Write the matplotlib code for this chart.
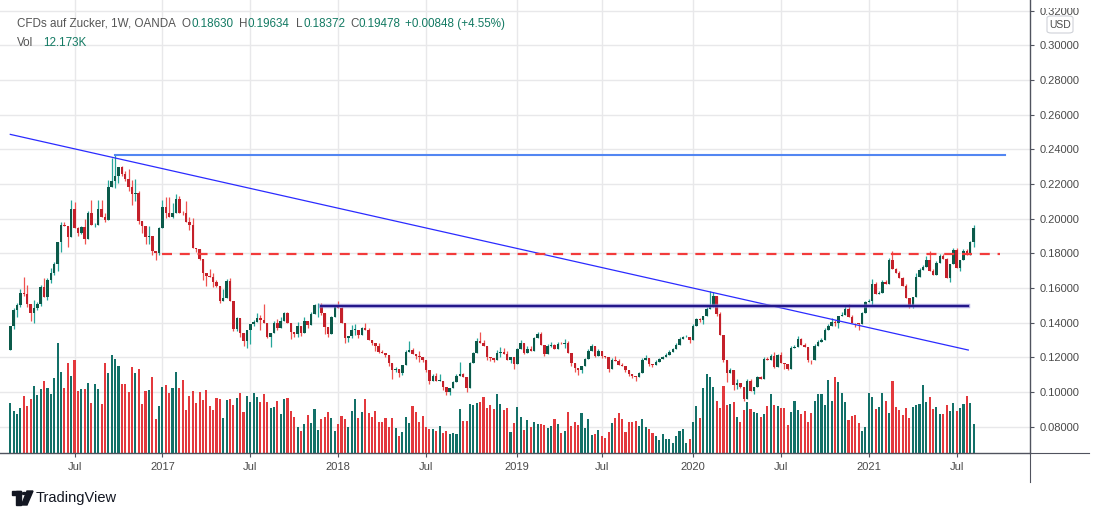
import matplotlib
matplotlib.use('Agg')
import matplotlib.pyplot as plt
from matplotlib.lines import Line2D
from matplotlib.patches import Rectangle, FancyBboxPatch, Polygon, Circle
import numpy as np
import pandas as pd

# ---- data (weekly candles, CFDs auf Zucker) ----
start_week = '2016-02-22'
first_open = 0.1242

closes = [
    0.1381, 0.1473, 0.1502, 0.1573, 0.1565, 0.1510, 0.1458, 0.1483, 0.1508, 0.1608,
    0.1550, 0.1646, 0.1685, 0.1738, 0.1865, 0.1963, 0.1958, 0.1896, 0.2056, 0.1944,
    0.1919, 0.1950, 0.1885, 0.2035, 0.1962, 0.1965, 0.2056, 0.2012, 0.1992, 0.2181,
    0.2217, 0.2246, 0.2296, 0.2256, 0.2229, 0.2181, 0.2140, 0.2150, 0.1987, 0.1958,
    0.1896, 0.1900, 0.1813, 0.1800, 0.1944, 0.2065, 0.2035, 0.2012, 0.2031, 0.2112,
    0.2035, 0.2031, 0.1981, 0.1962, 0.1829, 0.1827, 0.1769, 0.1685, 0.1671, 0.1665,
    0.1637, 0.1613, 0.1525, 0.1542, 0.1640, 0.1525, 0.1363, 0.1425, 0.1338, 0.1296,
    0.1358, 0.1390, 0.1406, 0.1425, 0.1415, 0.1400, 0.1319, 0.1342, 0.1400, 0.1367,
    0.1410, 0.1454, 0.1396, 0.1348, 0.1335, 0.1381, 0.1342, 0.1410, 0.1387, 0.1450,
    0.1500, 0.1504, 0.1454, 0.1373, 0.1335, 0.1431, 0.1492, 0.1483, 0.1396, 0.1310,
    0.1323, 0.1358, 0.1360, 0.1329, 0.1367, 0.1358, 0.1300, 0.1281, 0.1265, 0.1233,
    0.1227, 0.1213, 0.1169, 0.1127, 0.1135, 0.1108, 0.1154, 0.1231, 0.1242, 0.1219,
    0.1208, 0.1204, 0.1185, 0.1127, 0.1065, 0.1092, 0.1065, 0.1065, 0.1031, 0.1002,
    0.1021, 0.1056, 0.1092, 0.1102, 0.1085, 0.1021, 0.1165, 0.1223, 0.1294, 0.1281,
    0.1265, 0.1204, 0.1196, 0.1185, 0.1223, 0.1231, 0.1219, 0.1185, 0.1204, 0.1160,
    0.1246, 0.1281, 0.1227, 0.1246, 0.1238, 0.1310, 0.1335, 0.1271, 0.1219, 0.1267,
    0.1269, 0.1248, 0.1277, 0.1275, 0.1283, 0.1223, 0.1169, 0.1137, 0.1127, 0.1150,
    0.1188, 0.1236, 0.1265, 0.1210, 0.1238, 0.1208, 0.1204, 0.1135, 0.1185, 0.1181,
    0.1156, 0.1150, 0.1127, 0.1104, 0.1092, 0.1085, 0.1108, 0.1185, 0.1194, 0.1162,
    0.1156, 0.1173, 0.1188, 0.1200, 0.1213, 0.1231, 0.1246, 0.1271, 0.1306, 0.1315,
    0.1319, 0.1300, 0.1381, 0.1419, 0.1415, 0.1438, 0.1479, 0.1492, 0.1554, 0.1450,
    0.1329, 0.1185, 0.1108, 0.1127, 0.1040, 0.1054, 0.1031, 0.0958, 0.1065, 0.1008,
    0.1027, 0.1085, 0.1075, 0.1190, 0.1185, 0.1208, 0.1146, 0.1212, 0.1169, 0.1162,
    0.1135, 0.1254, 0.1262, 0.1304, 0.1273, 0.1258, 0.1185, 0.1183, 0.1265, 0.1287,
    0.1300, 0.1358, 0.1381, 0.1406, 0.1400, 0.1440, 0.1444, 0.1479, 0.1435, 0.1400,
    0.1396, 0.1390, 0.1454, 0.1517, 0.1527, 0.1623, 0.1565, 0.1573, 0.1637, 0.1623,
    0.1762, 0.1708, 0.1688, 0.1656, 0.1612, 0.1544, 0.1492, 0.1550, 0.1665, 0.1704,
    0.1723, 0.1762, 0.1700, 0.1675, 0.1746, 0.1785, 0.1765, 0.1656, 0.1738, 0.1819,
    0.1717, 0.1762, 0.1813, 0.1788, 0.1863, 0.19478,
]

# wick lengths above / below the body, in 0.001 price units
wick_up = [
    0, 1, 1, 2, 9, 5, 0, 5, 1, 1,   5, 1, 3, 1, 0, 2, 2, 0, 5, 4,
    1, 1, 5, 1, 7, 1, 5, 5, 2, 4,   13, 12, 0, 1, 2, 6, 4, 8, 1, 0,
    0, 6, 0, 0, 1, 4, 6, 9, 6, 3,   2, 1, 7, 3, 4, 0, 0, 0, 0, 4,
    2, 1, 0, 5, 1, 2, 0, 1, 0, 0,   0, 0, 1, 3, 2, 9, 0, 0, 1, 2,
    2, 1, 1, 0, 0, 2, 0, 2, 0, 1,   1, 1, 1, 0, 0, 1, 1, 3, 1, 0,
    0, 3, 3, 0, 1, 3, 1, 0, 0, 2,   1, 0, 0, 0, 1, 0, 0, 1, 5, 1,
    0, 3, 0, 0, 0, 1, 2, 4, 0, 0,   0, 1, 1, 7, 1, 0, 1, 1, 2, 5,
    2, 0, 0, 0, 2, 3, 2, 2, 0, 0,   1, 2, 0, 2, 2, 1, 1, 1, 0, 1,
    2, 1, 1, 1, 2, 1, 0, 0, 0, 0,   1, 1, 1, 0, 1, 0, 0, 0, 1, 2,
    1, 1, 0, 0, 0, 0, 1, 1, 2, 0,   0, 1, 1, 1, 1, 1, 1, 1, 1, 1,
    1, 0, 1, 1, 1, 0, 1, 9, 2, 0,   1, 0, 0, 1, 0, 2, 0, 0, 1, 1,
    0, 1, 1, 1, 1, 1, 2, 1, 2, 0,   0, 1, 1, 2, 1, 1, 0, 0, 1, 1,
    1, 1, 1, 2, 1, 0, 2, 2, 3, 1,   0, 0, 1, 1, 1, 3, 1, 1, 1, 1,
    1, 5, 1, 1, 1, 1, 0, 0, 2, 1,   1, 2, 5, 1, 1, 1, 1, 1, 0, 1,
    1, 0, 1, 1, 1, 1.56,
]
wick_dn = [
    0, 2, 4, 1, 1, 2, 5, 6, 1, 1,   0, 2, 2, 1, 4, 6, 0, 6, 0, 0,
    2, 1, 3, 0, 0, 1, 0, 0, 1, 0,   0, 4, 4, 1, 1, 2, 6, 4, 2, 4,
    4, 4, 2, 4, 1, 0, 3, 0, 1, 0,   0, 1, 0, 3, 0, 2, 1, 4, 6, 0,
    3, 1, 1, 0, 0, 0, 1, 1, 2, 3,   4, 8, 1, 0, 6, 0, 1, 6, 0, 1,
    0, 0, 0, 4, 2, 2, 2, 0, 2, 0,   0, 7, 1, 4, 2, 0, 0, 0, 0, 3,
    2, 1, 3, 2, 0, 0, 0, 1, 3, 1,   0, 1, 2, 5, 1, 2, 1, 0, 0, 0,
    2, 3, 1, 1, 2, 0, 0, 0, 2, 2,   2, 0, 0, 0, 0, 2, 0, 0, 0, 0,
    0, 2, 2, 1, 0, 2, 0, 0, 2, 3,   0, 0, 1, 0, 0, 0, 0, 0, 1, 0,
    1, 0, 0, 0, 2, 0, 2, 2, 3, 2,   0, 0, 0, 1, 0, 1, 1, 2, 0, 0,
    0, 0, 1, 1, 1, 2, 0, 0, 0, 1,   1, 0, 0, 0, 0, 0, 0, 0, 0, 0,
    0, 2, 0, 0, 1, 2, 0, 0, 0, 1,   0, 1, 5, 0, 3, 2, 1, 1, 0, 0,
    2, 0, 0, 0, 0, 0, 1, 0, 0, 3,   1, 0, 0, 0, 0, 0, 1, 2, 0, 0,
    0, 0, 0, 0, 2, 3, 0, 0, 0, 0,   2, 3, 0, 0, 0, 3, 0, 0, 0, 0,
    0, 0, 0, 0, 0, 0, 1, 1, 0, 0,   0, 0, 0, 0, 0, 0, 0, 0, 2, 0,
    0, 2, 0, 0, 0, 2.58,
]

# weekly volume in thousands
volume_k = [
    20.7, 17.6, 16.3, 18.8, 23.8, 19.6, 22.5, 27.9, 24.2, 26.7, 30.0, 27.1, 24.6, 31.3,
    45.8, 33.7, 27.1, 37.5, 32.1, 38.7, 25.9, 26.7, 26.7, 29.2, 20.9, 28.8, 26.7, 20.5,
    37.5, 33.3, 40.8, 39.1, 36.2, 28.8,
    28.8, 25.3, 35.7, 33.2, 34.9, 20.5, 25.9, 26.3, 31.5, 14.2, 19.6, 27.4, 28.4, 24.9,
    27.2, 33.7, 27.1, 30.4, 18.0, 23.8, 25.9, 20.9, 25.4, 22.1, 26.3, 19.6, 18.0, 23.0,
    22.7, 14.7, 22.1, 22.5, 20.1, 23.0, 25.0, 17.3,
    23.8, 21.4, 25.2, 23.5, 21.3, 24.6, 21.3, 18.9, 19.4, 21.9, 16.3, 22.4, 22.8, 17.6,
    15.2, 10.8, 9.3, 12.2, 15.9, 12.7, 18.5, 9.7, 14.4, 15.2, 17.1, 14.8, 9.3, 12.0,
    15.5, 14.2, 11.1, 17.7, 22.5, 14.5, 17.3, 22.7,
    16.6, 14.9, 17.6, 12.9, 12.9, 14.7, 10.8, 14.8, 10.4, 7.2, 8.7, 15.2, 12.4, 19.6,
    17.0, 12.9, 15.6, 10.8, 10.2, 10.1, 9.3, 11.3, 8.3, 9.3, 8.0, 8.4, 8.0, 18.4,
    13.4, 13.4, 20.5, 20.1, 20.7, 21.4, 23.4,
    18.7, 19.9, 18.5, 24.5, 20.5, 18.0, 18.9, 8.9, 12.7, 19.4, 15.2, 9.7, 13.8, 11.1,
    13.1, 12.2, 12.2, 11.8, 10.4, 11.5, 14.2, 12.2, 8.6, 9.3, 17.3, 11.5, 13.0, 11.6,
    16.6, 10.6, 14.4, 7.6, 8.0, 9.7, 7.3, 6.5,
    8.9, 12.4, 14.5, 16.6, 14.1, 9.0, 12.9, 12.9, 13.4, 11.3, 14.1, 10.8, 10.1, 8.3,
    7.3, 5.5, 8.0, 5.8, 5.8, 4.4, 7.2, 9.1, 10.1, 4.1, 5.9, 12.9, 19.6, 14.8,
    27.0, 32.8, 31.8, 27.7, 21.7, 18.8, 27.9, 20.1,
    20.3, 21.3, 15.2, 13.1, 18.0, 21.4, 18.3, 17.3, 16.9, 14.9, 16.3, 19.6, 24.5, 20.1,
    19.6, 18.7, 18.8, 11.8, 17.1, 21.9, 18.0, 16.3, 17.6, 13.1, 16.6, 21.7, 24.6, 24.6,
    20.1, 30.4, 21.9, 31.5, 29.5, 24.9, 21.4, 13.8, 15.5,
    15.9, 12.4, 9.3, 11.1, 25.2, 23.2, 18.4, 19.4, 24.9, 21.9, 16.9, 30.1, 19.4, 18.0,
    16.0, 18.9, 14.8, 19.4, 20.1, 20.5, 28.4, 21.3, 23.2, 18.3, 19.4, 16.3, 16.3, 20.1,
    17.7, 20.7, 17.7, 18.7, 20.5, 23.8, 21.0, 12.173,
]

price_ticks = [0.08, 0.10, 0.12, 0.14, 0.16, 0.18, 0.20, 0.22, 0.24, 0.26, 0.28, 0.30, 0.32]

# drawn lines: (dates, prices)
trend_dates = ['2016-02-22', '2021-07-29']
trend_prices = [0.2486, 0.1242]
top_dates = ['2016-09-26', '2021-10-14']
top_price = 0.2368
dash_dates = ['2017-01-02', '2021-10-03']
dash_price = 0.1796
support_dates = ['2017-11-27', '2021-07-29']
support_price = 0.1495

header_name = 'CFDs auf Zucker, 1W, OANDA'
header_labels = ['O', 'H', 'L', 'C']
header_values = ['0.18630', '0.19634', '0.18372', '0.19478']
header_change = '+0.00848 (+4.55%)'
last_vol = '12.173K'

assert len(closes) == len(wick_up) == len(wick_dn) == len(volume_k)

# ---- layout ----
W, H = 1100, 517
FONT = 'Liberation Sans'
plt.rcParams['font.family'] = [FONT, 'DejaVu Sans']

n = len(closes)
start = pd.Timestamp(start_week)
dates = pd.date_range(start, periods=n, freq='7D')
idx = np.arange(n)


def week_pos(d):
    return (pd.Timestamp(d) - start).days / 7.0


opens = np.array([first_open] + closes[:-1])
cl = np.array(closes)
hi = np.maximum(opens, cl) + np.array(wick_up) / 1000.0
lo = np.minimum(opens, cl) - np.array(wick_dn) / 1000.0
up = cl >= opens

px_week = 3.38
x0_px = 10.3
plot_w, plot_h = 1030, 453.3
xmin = -x0_px / px_week
xmax = (plot_w - x0_px) / px_week
pmin, pmax = 0.06463, 0.32612
vmax = 188.3

rect = [0, (H - plot_h) / H, plot_w / W, plot_h / H]
fig = plt.figure(figsize=(W / 100, H / 100), dpi=100)
fig.patch.set_facecolor('white')

# volume pane + grid (bottom layer)
axv = fig.add_axes(rect, zorder=1)
axv.set_xlim(xmin, xmax)
axv.set_ylim(0, vmax)
vol_colors = np.where(up, '#137068', '#e3393d')
axv.bar(idx, volume_k, width=0.62, color=vol_colors, linewidth=0, zorder=2)

tick_pos, tick_lab = [], []
for i, d in enumerate(dates):
    prev = dates[i - 1] if i > 0 else None
    if d.month in (1, 7) and (prev is None or prev.month != d.month):
        tick_pos.append(i)
        tick_lab.append(str(d.year) if d.month == 1 else 'Jul')

axv.set_xticks(tick_pos)
axv.set_yticks([(p - pmin) / (pmax - pmin) * vmax for p in price_ticks])
axv.grid(True, color='#e8e8ea', linewidth=1.0)
axv.set_axisbelow(True)
axv.tick_params(length=0, labelbottom=False, labelleft=False)
for s in axv.spines.values():
    s.set_visible(False)

# price pane
ax = fig.add_axes(rect, zorder=2)
ax.patch.set_visible(False)
ax.set_xlim(xmin, xmax)
ax.set_ylim(pmin, pmax)

wick_colors = np.where(up, '#26a69a', '#ef5350')
body_colors = np.where(up, '#0b5a4a', '#c4202a')
ax.vlines(idx, lo, hi, colors=wick_colors, linewidth=0.9, zorder=3)
body_lo = np.minimum(opens, cl)
body_h = np.maximum(np.abs(cl - opens), 0.0004)
ax.bar(idx, body_h, bottom=body_lo, width=0.74, color=body_colors, linewidth=0, zorder=4)

# drawings
ax.plot([week_pos(d) for d in trend_dates], trend_prices, color='#2b2bff', lw=0.9, zorder=5)
ax.plot([week_pos(d) for d in top_dates], [top_price, top_price], color='#5286f2', lw=1.5, zorder=5)
ax.plot([week_pos(d) for d in dash_dates], [dash_price, dash_price], color='#f23b3b', lw=1.6,
        linestyle=(0, (4.5, 3.5)), zorder=5)
ax.plot([week_pos(d) for d in support_dates], [support_price, support_price], color='#8a80d6',
        lw=3.2, alpha=0.6, zorder=5)
ax.plot([week_pos(d) for d in support_dates], [support_price, support_price], color='#24188a',
        lw=1.6, zorder=6)

# axes
axis_col = '#50535e'
for side in ('top', 'left'):
    ax.spines[side].set_visible(False)
for side in ('bottom', 'right'):
    ax.spines[side].set_color(axis_col)
    ax.spines[side].set_linewidth(1.0)
ax.yaxis.tick_right()
ax.set_yticks(price_ticks)
ax.set_yticklabels(['%.5f' % p for p in price_ticks])
ax.tick_params(axis='y', length=3, width=0.8, color=axis_col, pad=4, labelsize=8, labelcolor='#4a4a4a')
ax.set_xticks(tick_pos)
ax.set_xticklabels(tick_lab)
ax.tick_params(axis='x', length=3, width=0.8, color=axis_col, pad=3, labelsize=8, labelcolor='#4a4a4a')


def fx(x):
    return x / W


def fy(y):
    return 1 - y / H


# axis line extensions (TradingView style)
fig.add_artist(Line2D([fx(plot_w), fx(plot_w)], [fy(plot_h), fy(482)], color=axis_col, lw=0.8))
fig.add_artist(Line2D([fx(plot_w), fx(1089)], [fy(plot_h), fy(plot_h)], color=axis_col, lw=0.8))

# top of the price scale is cut off in the screenshot
fig.add_artist(Rectangle((fx(1032), fy(8)), fx(68), 8 / H, transform=fig.transFigure,
                         facecolor='white', edgecolor='none', zorder=10))

# USD badge
fig.add_artist(FancyBboxPatch((fx(1047), fy(33)), fx(26), 17 / H, transform=fig.transFigure,
                              boxstyle='round,pad=0,rounding_size=0.004',
                              facecolor='white', edgecolor='#cfd2d8', lw=0.8, zorder=11))
fig.text(fx(1060), fy(24.5), 'USD', fontsize=7.5, color='#4a4a4a', ha='center', va='center', zorder=12)

# header, laid out left to right by measured text widths
grey = '#555555'
green = '#137a63'
renderer = fig.canvas.get_renderer()


def put(x, y, s, color):
    t = fig.text(fx(x), fy(y), s, fontsize=8.4, color=color, va='center')
    return t.get_window_extent(renderer).x1


put(17, 24, header_name, grey)
for x, letter, val in zip([182, 239, 296, 350], header_labels, header_values):
    x_end = put(x, 24, letter, grey)
    put(x_end + 0.5, 24, val, green)
put(405, 24, header_change, green)
put(17, 43, 'Vol', grey)
put(43, 43, last_vol, green)

# TradingView logo
logo = '#131722'
fig.add_artist(Rectangle((fx(12), fy(495)), fx(9), 4 / H, transform=fig.transFigure, color=logo))
fig.add_artist(Rectangle((fx(16), fy(505)), fx(5), 14 / H, transform=fig.transFigure, color=logo))
fig.add_artist(Circle((fx(24.5), fy(493.5)), 2.2 / W, transform=fig.transFigure, color=logo))
fig.add_artist(Polygon([(fx(27), fy(491)), (fx(33), fy(491)), (fx(27), fy(505)), (fx(21.5), fy(505))],
                       closed=True, transform=fig.transFigure, color=logo))
fig.text(fx(36), fy(498), 'TradingView', fontsize=10.5, color=logo, va='center')

fig.savefig('out.png', dpi=100, facecolor='white')
